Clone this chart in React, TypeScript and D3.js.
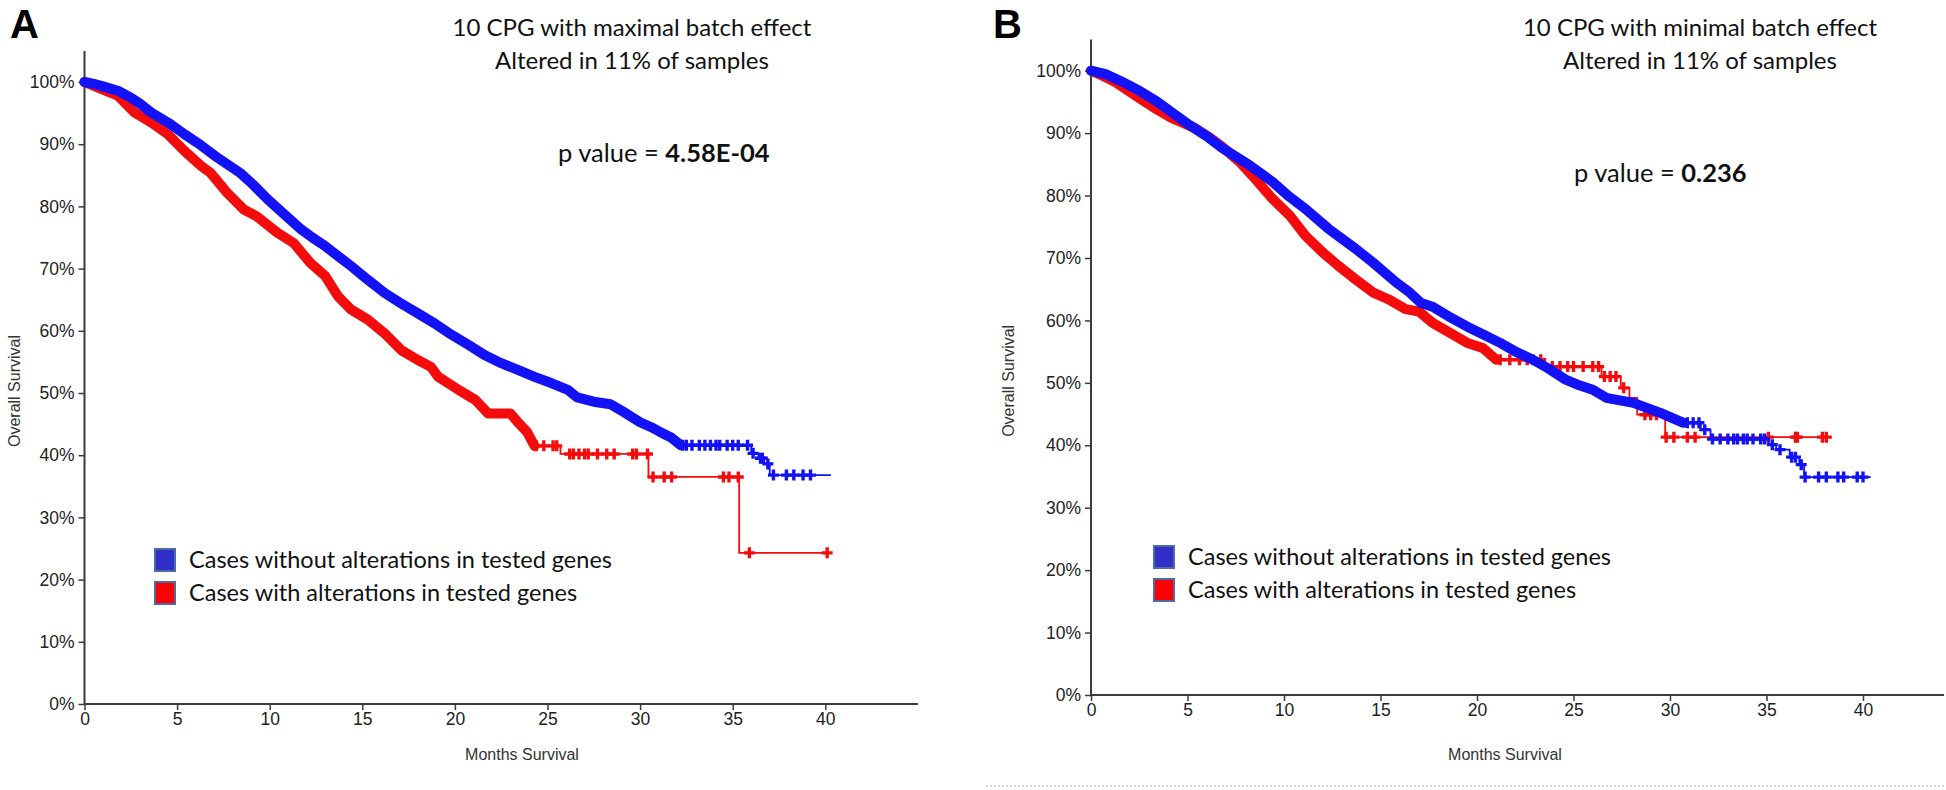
import { useEffect, useRef } from 'react';
import * as d3 from 'd3';

type Pt = [number, number]; // [months, overall survival %]

// ---- Panel A: 10 CPG with maximal batch effect ----
const A_WITHOUT: Pt[] = [
  [0, 100], [0.5, 99.7], [1, 99.3], [1.8, 98.6], [2.5, 97.5], [3, 96.5], [3.6, 95.1],
  [4.5, 93.5], [5.4, 91.6], [6.3, 89.8], [7.2, 87.8], [8.4, 85.4], [9.1, 83.5], [9.9, 81.1],
  [10.8, 78.7], [11.7, 76.3], [12.3, 75], [13, 73.6], [13.7, 72], [14.4, 70.4], [15.3, 68.2],
  [16.2, 66.1], [17.1, 64.4], [18, 62.8], [18.9, 61.2], [19.8, 59.4], [20.7, 57.8],
  [21.6, 56.1], [22.5, 54.8], [23.4, 53.7], [24.3, 52.6], [25.2, 51.6], [26.1, 50.5],
  [26.6, 49.3], [27.5, 48.6], [28.4, 48.2], [29.2, 46.8], [30, 45.3], [30.6, 44.5],
  [31.1, 43.7], [31.7, 42.8], [32.2, 41.6], [36.0, 40.3], [36.4, 39.5], [36.7, 38.6],
  [37.0, 36.8], [40.3, 36.8],
];
const A_WITHOUT_CENSORS = [
  32.3, 32.5, 32.8, 33.2, 33.5, 33.8, 34.1, 34.3, 34.7, 35.0, 35.3, 35.8,
  36.1, 36.5, 36.6, 36.9, 37.2, 37.9, 38.3, 38.8, 39.2,
];
const A_WITH: Pt[] = [
  [0, 100], [0.8, 99], [1.8, 97.8], [2.7, 95.1], [3.6, 93.5], [4.5, 91.6], [5.4, 88.9],
  [6.3, 86.5], [6.8, 85.4], [7.7, 82.2], [8.6, 79.5], [9.3, 78.4], [10.4, 75.8], [11.3, 74.1],
  [12.2, 70.9], [13, 68.8], [13.7, 65.5], [14.4, 63.4], [15.3, 61.8], [16.2, 59.6],
  [17.1, 56.9], [18, 55.3], [18.7, 54.2], [19.1, 52.6], [20.2, 50.5], [21.1, 48.9],
  [21.8, 46.7], [23, 46.7], [23.4, 45.3], [23.9, 43.7], [24.3, 41.5], [25.7, 40.2],
  [30.45, 36.5], [35.35, 24.3], [40.2, 24.3],
];
const A_WITH_CENSORS = [
  24.4, 24.8, 25.3, 25.5, 26.2, 26.4, 26.7, 27.0, 27.2, 27.7, 28.2, 28.6, 29.6, 29.8, 30.4,
  30.7, 31.3, 31.7, 34.5, 34.8, 35.3, 35.9, 40.1,
];

// ---- Panel B: 10 CPG with minimal batch effect ----
const B_WITHOUT: Pt[] = [
  [0, 100], [0.8, 99.4], [1.7, 98.1], [2.5, 96.8], [3.4, 95.1], [4.2, 93.3], [5.1, 91.3],
  [6, 89.5], [6.8, 87.6], [8.2, 84.9], [9.4, 82.2], [10.2, 80], [11.1, 77.9], [12.3, 74.7],
  [13.7, 71.5], [14.6, 69.3], [15.8, 66.1], [16.5, 64.5], [17.1, 62.8], [17.7, 62.2],
  [18.5, 60.7], [19.5, 59], [20.3, 57.8], [21.2, 56.4], [22, 55], [22.9, 53.7], [23.7, 52.3],
  [24.6, 50.5], [25.3, 49.6], [26, 48.9], [26.7, 47.6], [28.1, 46.8], [28.8, 46],
  [29.5, 45.2], [30.1, 44.4], [30.7, 43.6], [31.6, 42.5], [32.1, 41], [35.1, 40.1],
  [35.5, 39.3], [36.2, 38.1], [36.7, 36.9], [36.95, 34.9], [40.4, 34.9],
];
const B_WITHOUT_CENSORS = [
  30.9, 31.2, 31.5, 31.8, 32.2, 32.6, 33.0, 33.3, 33.5, 33.8, 34.0, 34.3, 34.7, 34.9,
  35.3, 35.7, 36.3, 36.5, 36.8, 37.0, 37.7, 38.1, 38.7, 39.0, 39.7, 40.0,
];
const B_WITH: Pt[] = [
  [0, 100], [0.6, 99.2], [1.3, 98.1], [2.5, 95.6], [3.3, 94], [4.2, 92.4], [5.4, 90.8],
  [6.1, 89.4], [6.8, 87.8], [7.7, 85.4], [8.5, 82.7], [9.4, 79.5], [10.3, 76.8], [11.1, 73.6],
  [12, 70.9], [12.8, 68.8], [13.7, 66.6], [14.6, 64.5], [15.4, 63.4], [16.3, 61.8],
  [17, 61.4], [17.7, 59.6], [18.6, 58], [19.5, 56.4], [20.3, 55.6], [21, 53.7],
  [23.45, 52.6], [26.45, 51], [27.45, 49.2], [27.9, 47.6], [28.3, 44.9], [29.75, 41.3],
  [38.3, 41.3],
];
const B_WITH_CENSORS = [
  21.2, 21.7, 22.2, 22.6, 22.9, 23.3, 23.9, 24.3, 24.7, 25.0, 25.5, 26.0, 26.3, 26.6, 26.9,
  27.2, 27.6, 28.7, 29.0, 29.3, 29.8, 30.2, 30.9, 31.3, 35.1, 36.5, 36.6, 37.9, 38.1,
];

const X_TICKS = [0, 5, 10, 15, 20, 25, 30, 35, 40];
const Y_TICKS = [0, 10, 20, 30, 40, 50, 60, 70, 80, 90, 100];
const LEGEND_LABELS = [
  'Cases without alterations in tested genes',
  'Cases with alterations in tested genes',
];
const TITLES_A = ['10 CPG with maximal batch effect', 'Altered in 11% of samples'];
const TITLES_B = ['10 CPG with minimal batch effect', 'Altered in 11% of samples'];
const P_A = '4.58E-04';
const P_B = '0.236';

const BLUE = '#1212f4';
const RED = '#f40c0c';
const TICK_FONT = '"Liberation Sans", Arial, sans-serif';
const TEXT_FONT = 'Lato, "Open Sans", sans-serif';

interface PanelOpts {
  letter: string;
  letterX: number;
  x0: number;
  x40: number;
  xMax: number;
  y0: number;
  y100: number;
  without: Pt[];
  withoutCensors: number[];
  withoutDenseEnd: number;
  withA: Pt[];
  withCensors: number[];
  withDenseEnd: number;
  titles: string[];
  pValue: string;
  titleX: number;
  pX: number;
  pY: number;
  legendX: number;
  legendY: number;
  xLabelX: number;
  yLabelX: number;
}

function stepValue(pts: Pt[], t: number): number {
  let v = pts[0][1];
  for (const p of pts) {
    if (p[0] <= t) v = p[1];
    else break;
  }
  return v;
}

function drawPanel(svg: d3.Selection<SVGSVGElement, unknown, null, undefined>, o: PanelOpts) {
  const g = svg.append('g');
  const x = d3.scaleLinear().domain([0, 40]).range([o.x0, o.x40]);
  const y = d3.scaleLinear().domain([0, 100]).range([o.y0, o.y100]);

  // axes
  const xAxis = g.append('g')
    .attr('transform', `translate(0,${o.y0})`)
    .call(d3.axisBottom(x).tickValues(X_TICKS).tickSize(6).tickSizeOuter(0).tickPadding(3));
  xAxis.select('.domain').attr('d', `M${o.x0},0H${x(o.xMax)}`);
  const yAxis = g.append('g')
    .attr('transform', `translate(${o.x0},0)`)
    .call(d3.axisLeft(y).tickValues(Y_TICKS).tickSize(6).tickSizeOuter(0).tickPadding(4)
      .tickFormat((d) => `${d}%`));
  yAxis.select('.domain').attr('d', `M0,${o.y0}V${y(105)}`);
  [xAxis, yAxis].forEach((ax) => {
    ax.select('.domain').attr('stroke', '#3a3a3a').attr('stroke-width', 2);
    ax.selectAll('.tick line').attr('stroke', '#3a3a3a').attr('stroke-width', 1.5);
    ax.selectAll('.tick text')
      .attr('fill', '#222')
      .attr('font-family', TICK_FONT)
      .attr('font-size', 17.5);
  });

  // curves
  const drawSeries = (pts: Pt[], censors: number[], denseEnd: number, color: string) => {
    const line = d3.line<Pt>().x((d) => x(d[0])).y((d) => y(d[1]));
    const dense = pts.filter((p) => p[0] <= denseEnd);
    const tail = pts.filter((p) => p[0] >= denseEnd);
    g.append('path')
      .attr('d', line.curve(d3.curveStepAfter)(tail))
      .attr('fill', 'none')
      .attr('stroke', color)
      .attr('stroke-width', 1.8);
    g.append('path')
      .attr('d', line.curve(d3.curveLinear)(dense))
      .attr('fill', 'none')
      .attr('stroke', color)
      .attr('stroke-width', 10)
      .attr('stroke-linejoin', 'round')
      .attr('stroke-linecap', 'round');
    g.append('g')
      .selectAll('path')
      .data(censors)
      .join('path')
      .attr('d', (t) => {
        const cx = x(t);
        const cy = y(stepValue(pts, t));
        return `M${cx - 5.5},${cy}h11M${cx},${cy - 5.5}v11`;
      })
      .attr('stroke', color)
      .attr('stroke-width', 3.4)
      .attr('fill', 'none');
  };
  drawSeries(o.withA, o.withCensors, o.withDenseEnd, RED);
  drawSeries(o.without, o.withoutCensors, o.withoutDenseEnd, BLUE);

  // panel letter
  g.append('text')
    .attr('x', o.letterX).attr('y', 38)
    .attr('font-family', TICK_FONT).attr('font-weight', 700).attr('font-size', 40)
    .attr('fill', '#000')
    .text(o.letter);

  // annotation
  const ann = g.append('g').attr('font-family', TEXT_FONT).attr('fill', '#111');
  ann.append('text').attr('x', o.titleX).attr('y', 36)
    .attr('text-anchor', 'middle').attr('font-size', 24).text(o.titles[0]);
  ann.append('text').attr('x', o.titleX).attr('y', 69)
    .attr('text-anchor', 'middle').attr('font-size', 24).text(o.titles[1]);
  const pv = ann.append('text').attr('x', o.pX).attr('y', o.pY).attr('font-size', 25.5);
  pv.append('tspan').text('p value = ');
  pv.append('tspan').attr('font-weight', 700).text(o.pValue);

  // legend
  const leg = g.append('g').attr('transform', `translate(${o.legendX},${o.legendY})`);
  [BLUE, RED].forEach((c, i) => {
    leg.append('rect')
      .attr('x', 0).attr('y', i * 33)
      .attr('width', 20).attr('height', 22)
      .attr('fill', i === 0 ? '#3030c8' : '#ff0000')
      .attr('stroke', '#4a6aa8').attr('stroke-width', 2);
    leg.append('text')
      .attr('x', 34).attr('y', i * 33 + 19)
      .attr('font-family', TEXT_FONT).attr('font-size', 23.5).attr('fill', '#111')
      .text(LEGEND_LABELS[i]);
  });

  // axis titles
  g.append('text')
    .attr('x', o.xLabelX).attr('y', 760)
    .attr('text-anchor', 'middle')
    .attr('font-family', TICK_FONT).attr('font-size', 16).attr('fill', '#333')
    .text('Months Survival');
  g.append('text')
    .attr('transform', `translate(${o.yLabelX},${(o.y0 + o.y100) / 2 - 2}) rotate(-90)`)
    .attr('text-anchor', 'middle')
    .attr('font-family', TICK_FONT).attr('font-size', 16).attr('fill', '#333')
    .text('Overall Survival');
}

export default function App() {
  const svgRef = useRef<SVGSVGElement>(null);

  useEffect(() => {
    if (!svgRef.current) return;
    const svg = d3.select(svgRef.current);
    svg.selectAll('*').remove();

    drawPanel(svg, {
      letter: 'A', letterX: 10,
      x0: 84.5, x40: 825.3, xMax: 45, y0: 704, y100: 82,
      without: A_WITHOUT, withoutCensors: A_WITHOUT_CENSORS, withoutDenseEnd: 32.2,
      withA: A_WITH, withCensors: A_WITH_CENSORS, withDenseEnd: 24.3,
      titles: TITLES_A, pValue: P_A, titleX: 632, pX: 558, pY: 162,
      legendX: 155, legendY: 549, xLabelX: 522, yLabelX: 20,
    });
    drawPanel(svg, {
      letter: 'B', letterX: 993,
      x0: 1091, x40: 1863, xMax: 44.2, y0: 695, y100: 70.7,
      without: B_WITHOUT, withoutCensors: B_WITHOUT_CENSORS, withoutDenseEnd: 30.7,
      withA: B_WITH, withCensors: B_WITH_CENSORS, withDenseEnd: 21,
      titles: TITLES_B, pValue: P_B, titleX: 1700, pX: 1574, pY: 182,
      legendX: 1154, legendY: 546, xLabelX: 1505, yLabelX: 1014,
    });

    // faint dotted rule under panel B
    svg.append('line')
      .attr('x1', 986).attr('x2', 1946).attr('y1', 786).attr('y2', 786)
      .attr('stroke', '#cfcfcf').attr('stroke-width', 1.5).attr('stroke-dasharray', '2,2');
  }, []);

  return (
    <svg
      ref={svgRef}
      width={1946}
      height={790}
      style={{ position: 'absolute', left: 0, top: 0, background: '#fff', display: 'block' }}
    />
  );
}
